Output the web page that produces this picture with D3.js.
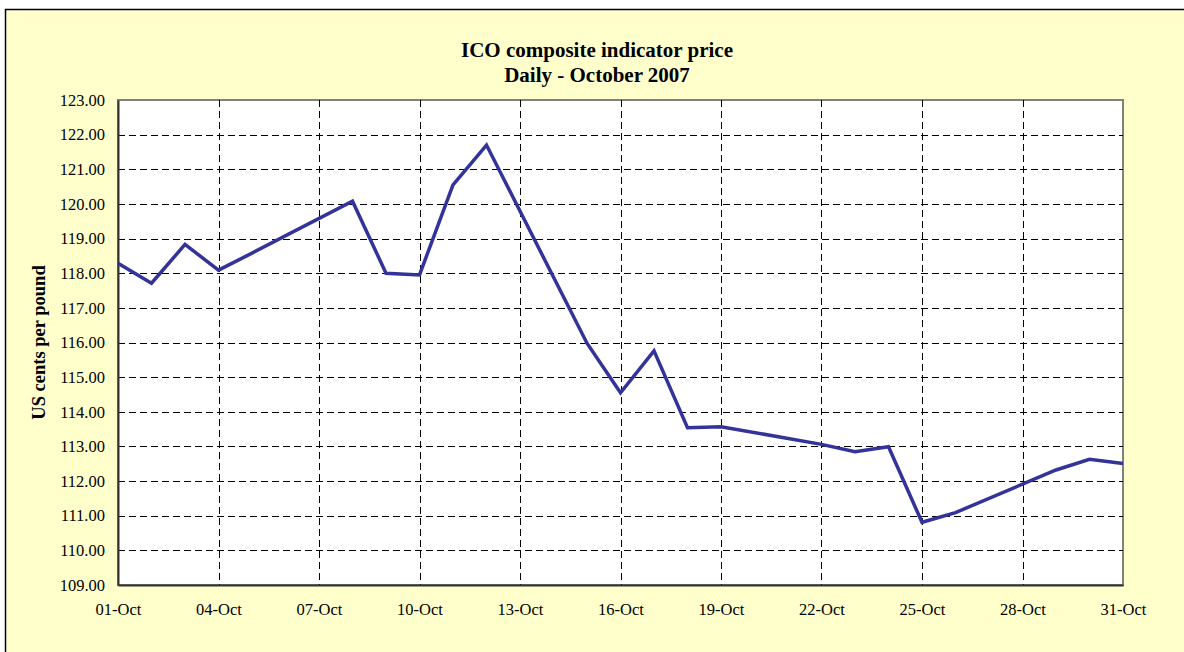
<!DOCTYPE html>
<html>
<head>
<meta charset="utf-8">
<script src="https://cdn.jsdelivr.net/npm/d3@7"></script>
<style>
  body { margin: 0; background: #fff; }
  text { font-family: "Liberation Serif", "Times New Roman", serif; fill: #000; }
</style>
</head>
<body>
<svg width="1184" height="652"></svg>
<script>
// trading days only (weekends are bridged by the line)
const days = [1, 2, 3, 4, 5, 8, 9, 10, 11, 12, 15, 16, 17, 18, 19, 22, 23, 24, 25, 26, 29, 30, 31];
const prices = [118.29, 117.71, 118.83, 118.09, 118.58, 120.08, 118.00, 117.95, 120.55, 121.70,
  115.98, 114.55, 115.76, 113.54, 113.57, 113.06, 112.85, 112.99, 110.81, 111.09,
  112.32, 112.63, 112.51];
const tickDays = [1, 4, 7, 10, 13, 16, 19, 22, 25, 28, 31];
const yTicks = [109, 110, 111, 112, 113, 114, 115, 116, 117, 118, 119, 120, 121, 122, 123];
const titleLines = ['ICO composite indicator price', 'Daily - October 2007'];
const yTitle = 'US cents per pound';

const data = days.map((d, i) => ({ date: new Date(2007, 9, d), value: prices[i] }));

const svg = d3.select('svg');
const plot = { left: 118, top: 100, right: 1123, bottom: 585 };

// chart area background + frame
svg.append('rect')
  .attr('x', 5.5).attr('y', 9.5)
  .attr('width', 1250).attr('height', 700)
  .attr('fill', '#FFFFCC')
  .attr('stroke', '#000')
  .attr('stroke-width', 1.5);

const x = d3.scaleTime()
  .domain([new Date(2007, 9, 1), new Date(2007, 9, 31)])
  .range([plot.left, plot.right]);

const y = d3.scaleLinear()
  .domain([109, 123])
  .range([plot.bottom, plot.top]);

svg.append('rect')
  .attr('x', plot.left).attr('y', plot.top)
  .attr('width', plot.right - plot.left)
  .attr('height', plot.bottom - plot.top)
  .attr('fill', '#fff')
  .attr('stroke', '#808080')
  .attr('stroke-width', 2);

// gridlines
const grid = svg.append('g')
  .attr('stroke', '#000')
  .attr('stroke-width', 1)
  .attr('stroke-dasharray', '7,4');

grid.selectAll('.hgrid')
  .data(yTicks.filter(v => v > 109 && v < 123))
  .enter().append('line')
  .attr('x1', plot.left).attr('x2', plot.right)
  .attr('y1', d => Math.round(y(d)) + 0.5)
  .attr('y2', d => Math.round(y(d)) + 0.5);

grid.selectAll('.vgrid')
  .data(tickDays.filter(d => d > 1 && d < 31))
  .enter().append('line')
  .attr('x1', d => Math.round(x(new Date(2007, 9, d))) + 0.5)
  .attr('x2', d => Math.round(x(new Date(2007, 9, d))) + 0.5)
  .attr('y1', plot.top).attr('y2', plot.bottom);

// axes
const yAxis = d3.axisLeft(y)
  .tickValues(yTicks)
  .tickSize(0)
  .tickPadding(13)
  .tickFormat(d3.format('.2f'));

svg.append('g')
  .attr('transform', `translate(${plot.left},0)`)
  .call(yAxis)
  .call(g => g.select('.domain').attr('stroke', '#333').attr('stroke-width', 2))
  .call(g => g.selectAll('text')
    .style('font-family', '"Liberation Serif", "Times New Roman", serif')
    .style('font-size', '16.5px')
    .attr('fill', '#000'));

const xAxis = d3.axisBottom(x)
  .tickValues(tickDays.map(d => new Date(2007, 9, d)))
  .tickSize(0)
  .tickPadding(18)
  .tickFormat(d3.timeFormat('%d-%b'));

svg.append('g')
  .attr('transform', `translate(0,${plot.bottom})`)
  .call(xAxis)
  .call(g => g.select('.domain').attr('stroke', '#333').attr('stroke-width', 2))
  .call(g => g.selectAll('text')
    .style('font-family', '"Liberation Serif", "Times New Roman", serif')
    .style('font-size', '16.5px')
    .attr('fill', '#000'));

// price line
const line = d3.line()
  .x(d => x(d.date))
  .y(d => y(d.value));

svg.append('path')
  .datum(data)
  .attr('fill', 'none')
  .attr('stroke', '#333399')
  .attr('stroke-width', 3.5)
  .attr('stroke-linejoin', 'miter')
  .attr('d', line);

// titles
svg.selectAll('.title')
  .data(titleLines)
  .enter().append('text')
  .attr('class', 'title')
  .attr('x', 597)
  .attr('y', (d, i) => 57 + i * 25)
  .attr('text-anchor', 'middle')
  .style('font-size', '21px')
  .style('font-weight', 'bold')
  .text(d => d);

svg.append('text')
  .attr('transform', `translate(45,${(plot.top + plot.bottom) / 2}) rotate(-90)`)
  .attr('text-anchor', 'middle')
  .style('font-size', '18.5px')
  .style('font-weight', 'bold')
  .text(yTitle);
</script>
</body>
</html>
